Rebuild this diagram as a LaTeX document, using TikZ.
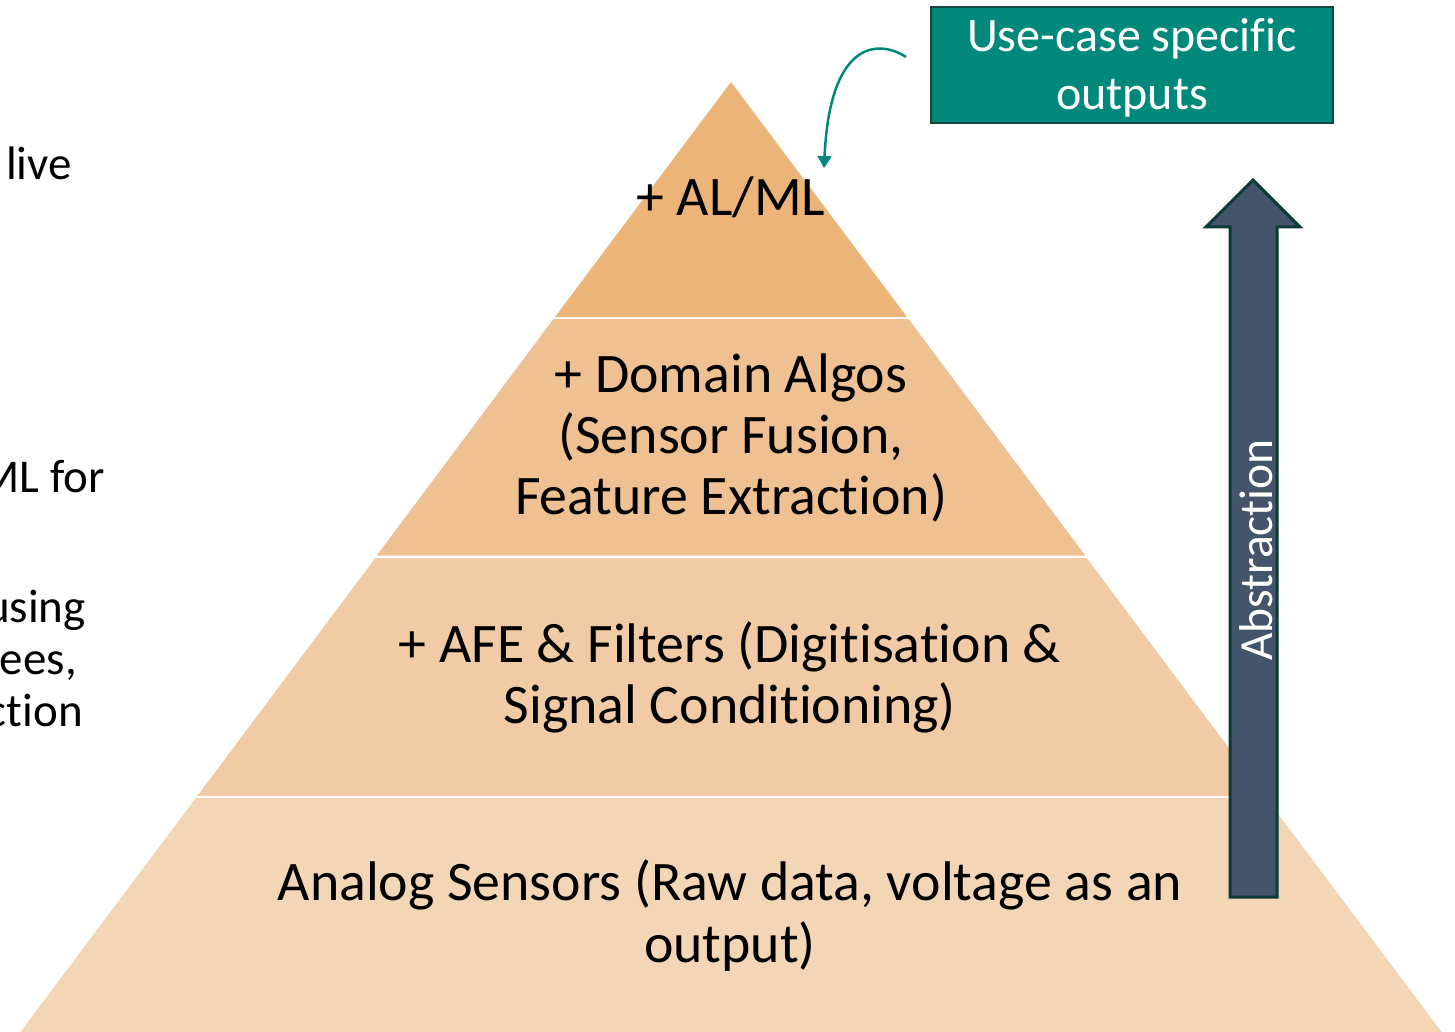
\documentclass[tikz,border=0pt]{standalone}
\usepackage{fontspec}
\setmainfont{Carlito}[RawFeature={-liga}]
\usetikzlibrary{arrows.meta}
\definecolor{layA}{RGB}{237,180,122}
\definecolor{layB}{RGB}{238,192,146}
\definecolor{layC}{RGB}{241,203,165}
\definecolor{layD}{RGB}{243,214,182}
\definecolor{tealbox}{RGB}{0,137,123}
\definecolor{tealedge}{RGB}{22,72,66}
\definecolor{slate}{RGB}{68,84,106}
\definecolor{slateedge}{RGB}{12,58,52}
\tikzset{
  pyrtext/.style={font=\fontsize{55.8}{61}\selectfont, anchor=base, inner sep=0pt, text=black},
  sidetext/.style={font=\fontsize{47}{52}\selectfont, anchor=base east, inner sep=0pt, text=black}
}
\begin{document}
\begin{tikzpicture}[x=1pt,y=-1pt]
\useasboundingbox (0,0) rectangle (1455,1032);
\clip (0,0) rectangle (1455,1032);
\fill[white] (0,0) rectangle (1455,1032);
% pyramid layers (slope 0.748)
\fill[layA] (731,82) -- (907.0,317) -- (555.0,317) -- cycle;
\fill[layB] (553.5,319) -- (908.5,319) -- (1085.2,555.5) -- (376.8,555.5) -- cycle;
\fill[layC] (375.3,558) -- (1086.7,558) -- (1264.7,796) -- (197.3,796) -- cycle;
\fill[layD] (195.8,798) -- (1266.2,798) -- (1447.6,1040) -- (14.4,1040) -- cycle;
% pyramid texts
\node[pyrtext] (t1) at (731,216) {+ AL/ML};
\node[pyrtext] (t2a) at (731,392) {+ Domain Algos};
\node[pyrtext] (t2b) at (731,453) {(Sensor Fusion,};
\node[pyrtext] (t2c) at (731,514) {Feature Extraction)};
\node[pyrtext] (t3a) at (730,662) {+ AFE \& Filters (Digitisation \&};
\node[pyrtext] (t3b) at (730,723) {Signal Conditioning)};
\node[pyrtext] (t4a) at (730,900) {Analog Sensors (Raw data, voltage as an};
\node[pyrtext] (t4b) at (730,962) {output)};
% clipped left texts
\node[sidetext] (s1) at (72,180) {live};
\node[sidetext] (s2) at (105,492) {ML for};
\node[sidetext] (s3) at (86,622) {using};
\node[sidetext] (s4) at (77,674) {ees,};
\node[sidetext] (s5) at (83,726) {ction};
% abstraction arrow
\filldraw[fill=slate, draw=slateedge, line width=3pt, line join=miter]
  (1230,897) -- (1230,227) -- (1206,227) -- (1253,180) -- (1300,227) -- (1277,227) -- (1277,897) -- cycle;
\node[font=\fontsize{47.5}{50}\selectfont, text=white, rotate=90, inner sep=0pt] (abs) at (1256,550) {Abstraction};
% output box
\node[draw=tealedge, line width=2.5pt, fill=tealbox, minimum width=402pt, minimum height=116pt, inner sep=0pt] (box) at (1132,65) {};
\node[text=white, font=\fontsize{48}{58}\selectfont, align=center, inner sep=0pt] (boxtext) at (1132,68)
      {Use-case specific\\outputs};
\coordinate (cs) at (906,57);
\coordinate (ce) at (824,168);
\draw[tealbox, line width=2.5pt, -{Triangle[width=14pt,length=12pt]}]
  (cs) .. controls (880,40) and (830,38) .. (ce);
\end{tikzpicture}
\end{document}
